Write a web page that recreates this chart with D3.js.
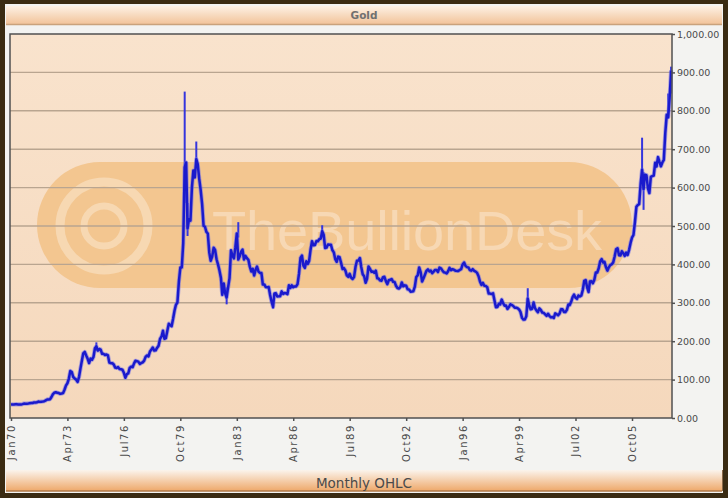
<!DOCTYPE html>
<html><head><meta charset="utf-8">
<script src="https://cdn.jsdelivr.net/npm/d3@7"></script>
<style>html,body{margin:0;padding:0;background:#fff}svg{display:block}</style>
</head><body>
<svg id="chart" width="728" height="498"></svg>
<script>
const chartTitle = "Gold";
const footerTitle = "Monthly OHLC";
const watermarkText = "TheBullionDesk";
const yTickValues = [0,100,200,300,400,500,600,700,800,900,1000];
const xTickLabels = ["Jan70","Apr73","Jul76","Oct79","Jan83","Apr86","Jul89","Oct92","Jan96","Apr99","Jul02","Oct05"];
const firstMonth = "1970-01";
// monthly closes, Jan 1970 .. Jan 2008
const goldClose = [
 35.0,35.4,35.1,35.6,35.9,35.4,35.3,35.4,36.2,37.5,37.4,37.4,
 37.9,38.7,38.9,39.0,40.5,40.1,41.0,42.7,42.0,42.5,42.9,43.5,
 45.8,48.3,48.3,49.0,54.6,62.1,65.7,67.0,65.5,64.9,62.9,63.9,
 65.1,74.2,84.4,90.5,102.0,122.5,120.0,106.8,103.0,100.1,94.0,106.7,
 129.2,150.2,168.4,172.2,163.0,154.1,143.0,154.6,151.8,158.8,181.7,186.5,
 175.8,179.6,178.2,167.0,167.0,164.0,165.2,163.0,144.1,142.8,142.9,139.3,
 131.2,130.4,132.5,127.3,126.8,125.7,117.6,105.0,114.0,116.0,130.6,133.9,
 132.3,142.2,148.9,148.0,146.7,140.8,143.3,144.8,149.4,159.3,162.8,160.4,
 173.2,178.2,183.7,175.5,176.3,183.1,188.3,206.0,212.4,227.3,206.1,207.8,
 227.2,245.7,242.1,239.2,257.6,279.1,294.7,300.8,355.1,391.7,391.9,455.1,
 653.0,665.3,494.0,517.4,513.8,600.7,644.3,626.5,674.0,661.2,623.5,594.9,
 557.6,500.5,498.7,484.6,480.4,430.6,409.3,420.3,443.4,437.8,413.4,400.1,
 384.4,364.6,320.7,350.2,323.9,314.0,339.4,364.4,436.9,422.8,415.7,444.3,
 480.5,412.5,420.5,432.8,438.4,412.6,422.3,416.2,411.9,394.2,381.5,388.4,
 370.9,386.4,394.3,381.4,377.7,377.7,347.7,347.7,341.1,340.2,341.2,320.2,
 302.7,289.1,324.0,324.9,316.6,316.8,317.3,329.8,323.2,325.6,325.1,322.6,
 345.6,338.9,345.6,340.4,342.6,342.6,348.8,376.4,417.0,423.1,397.0,391.0,
 408.2,401.0,408.8,438.6,460.3,449.6,450.4,460.7,460.3,465.6,467.4,486.3,
 477.1,442.6,443.6,451.8,451.1,451.3,437.6,431.5,413.5,406.8,420.2,418.6,
 404.0,387.8,390.2,384.2,371.2,367.6,375.2,365.4,361.9,366.9,393.9,409.3,
 410.1,416.7,393.1,374.3,369.1,352.3,362.5,394.6,388.3,380.7,381.7,378.2,
 383.7,363.8,363.3,358.4,357.4,366.7,367.7,356.4,348.7,358.7,360.0,361.7,
 354.5,353.9,344.3,338.6,337.2,340.9,353.1,342.9,345.4,344.4,335.0,334.7,
 329.0,329.4,330.1,342.2,367.2,371.9,392.0,379.8,355.3,364.2,373.8,383.3,
 386.9,381.9,384.1,377.3,381.4,385.6,385.5,380.4,391.6,389.8,384.4,379.5,
 378.6,376.5,382.1,391.0,385.2,387.6,386.2,383.7,383.1,383.1,385.5,387.4,
 400.0,405.0,396.2,392.9,392.0,385.3,383.5,387.5,383.1,381.1,377.9,369.2,
 354.9,346.6,351.8,344.5,343.8,340.8,324.1,323.9,322.8,324.9,306.0,288.7,
 289.1,297.5,295.9,308.4,299.1,292.3,292.9,284.1,288.9,296.3,294.1,291.6,
 287.1,287.2,286.0,282.6,276.4,261.3,256.2,256.7,265.1,310.7,293.2,283.1,
 284.6,300.9,286.4,280.0,275.3,285.4,281.6,274.5,273.7,270.0,266.0,271.5,
 265.5,261.9,263.0,260.5,272.4,270.2,267.5,272.4,283.4,283.1,276.2,275.9,
 281.7,295.5,294.0,302.7,314.5,321.2,313.3,310.3,319.2,316.6,319.2,333.4,
 356.9,359.0,340.6,328.2,355.7,356.4,351.0,359.8,378.9,378.9,389.9,407.6,
 413.8,404.9,406.7,393.0,383.8,392.4,398.1,400.5,405.3,420.5,439.4,442.1,
 424.0,423.4,434.2,429.2,421.9,430.7,424.5,437.9,456.0,469.9,476.7,509.8,
 549.9,555.0,557.1,610.6,646.5,596.2,633.7,632.6,598.2,585.8,627.8,629.8,
 631.2,664.8,654.9,679.4,666.9,655.5,665.3,672.4,742.7,789.6,783.3,833.2,
 905.0
];
// notable monthly high/low extremes (OHLC wicks)
const wickMonths = ["1974-12","1980-01","1980-03","1980-09","1982-06","1983-02","1985-02","1987-12","1999-10","2006-05","2006-06","2007-11","2008-01"];
const wickHighs  = [197, 850, 560, 720, 340, 510, 300, 502, 338, 730, 640, 845, 915];
const wickLows   = [175, 560, 474, 655, 296, 470, 285, 470, 285, 640, 542, 780, 845];

const svg = d3.select("#chart");
const W = 728, H = 498;
const plot = {l: 10, r: 672, t: 34, b: 418};
const parseM = d3.timeParse("%Y-%m");
const t0 = parseM(firstMonth);
const dates = goldClose.map((_, i) => d3.timeMonth.offset(t0, i));

const x = d3.scaleTime().domain([t0, new Date(2008, 0, 20)]).range([plot.l + 1, plot.r]);
const y = d3.scaleLinear().domain([0, 1000]).range([plot.b, plot.t]);

const defs = svg.append("defs");
const g1 = defs.append("linearGradient").attr("id","titleGrad").attr("x1",0).attr("y1",0).attr("x2",0).attr("y2",1);
g1.append("stop").attr("offset","0%").attr("stop-color","#fdf1e4");
g1.append("stop").attr("offset","100%").attr("stop-color","#f2c49a");
const g2 = defs.append("linearGradient").attr("id","footGrad").attr("x1",0).attr("y1",0).attr("x2",0).attr("y2",1);
g2.append("stop").attr("offset","0%").attr("stop-color","#fbf4ec");
g2.append("stop").attr("offset","100%").attr("stop-color","#eea86a");
const g3 = defs.append("linearGradient").attr("id","plotGrad").attr("x1",0).attr("y1",0).attr("x2",0).attr("y2",1);
g3.append("stop").attr("offset","0%").attr("stop-color","#f9e3cd");
g3.append("stop").attr("offset","100%").attr("stop-color","#f5d8bc");

// outer frame
svg.append("rect").attr("x",0).attr("y",0).attr("width",W).attr("height",H).attr("fill","#3a2b12");
svg.append("rect").attr("x",5).attr("y",4).attr("width",W-10).attr("height",H-9).attr("fill","#f3f3f1");

// title bar
svg.append("rect").attr("x",6).attr("y",6).attr("width",W-12).attr("height",18).attr("fill","url(#titleGrad)");
svg.append("line").attr("x1",6).attr("x2",W-6).attr("y1",24.5).attr("y2",24.5).attr("stroke","#c9a27c").attr("stroke-width",1.5);
svg.append("text").attr("x",W/2).attr("y",19).attr("text-anchor","middle")
  .attr("font-family","DejaVu Sans, Verdana, sans-serif").attr("font-size",10.5).attr("font-weight","bold")
  .attr("fill","#707070").text(chartTitle);

// footer bar
svg.append("rect").attr("x",6).attr("y",470).attr("width",W-12).attr("height",21).attr("fill","url(#footGrad)");
svg.append("line").attr("x1",6).attr("x2",W-6).attr("y1",491).attr("y2",491).attr("stroke","#b07a48").attr("stroke-width",1.5);
svg.append("line").attr("x1",722.5).attr("x2",722.5).attr("y1",470).attr("y2",491).attr("stroke","#8a6a4a").attr("stroke-width",1);
svg.append("text").attr("x",W/2).attr("y",488).attr("text-anchor","middle")
  .attr("font-family","DejaVu Sans, Verdana, sans-serif").attr("font-size",13.5)
  .attr("fill","#4a4a4a").text(footerTitle);

// plot background
svg.append("rect").attr("x",plot.l).attr("y",plot.t).attr("width",plot.r-plot.l).attr("height",plot.b-plot.t).attr("fill","url(#plotGrad)");

// watermark
const wm = svg.append("g");
wm.append("rect").attr("x",37).attr("y",162).attr("width",595).attr("height",126).attr("rx",63).attr("ry",63).attr("fill","#f3c690");
wm.append("circle").attr("cx",104).attr("cy",226).attr("r",44).attr("fill","none").attr("stroke","#f7d8b2").attr("stroke-width",9);
wm.append("circle").attr("cx",104).attr("cy",226).attr("r",20).attr("fill","none").attr("stroke","#f7d8b2").attr("stroke-width",7);
wm.append("text").attr("x",212).attr("y",250).attr("font-family","Liberation Sans, Arial, sans-serif")
  .attr("font-size",56).attr("fill","#f7d8b4").attr("textLength",390).text(watermarkText);

// gridlines
svg.append("g").selectAll("line").data(yTickValues.filter(v => v > 0 && v < 1000)).join("line")
  .attr("x1",plot.l).attr("x2",plot.r).attr("y1",d => y(d)).attr("y2",d => y(d))
  .attr("stroke","#b9a590").attr("stroke-width",1.4);

// wicks
const wickDates = wickMonths.map(parseM);
svg.append("g").selectAll("line").data(wickDates).join("line")
  .attr("x1",d => x(d)).attr("x2",d => x(d))
  .attr("y1",(d,i) => y(wickHighs[i])).attr("y2",(d,i) => y(wickLows[i]))
  .attr("stroke","#3535dd").attr("stroke-width",2);

// price line
const line = d3.line().x((d,i) => x(dates[i])).y(d => y(d)).curve(d3.curveLinear);
svg.append("path").datum(goldClose).attr("d",line).attr("fill","none")
  .attr("stroke","#6a6ae8").attr("stroke-width",4.2).attr("stroke-linejoin","round").attr("opacity",0.55);
svg.append("path").datum(goldClose).attr("d",line).attr("fill","none")
  .attr("stroke","#1a1acc").attr("stroke-width",2.5).attr("stroke-linejoin","round");

// frame
svg.append("rect").attr("x",plot.l).attr("y",plot.t).attr("width",plot.r-plot.l).attr("height",plot.b-plot.t)
  .attr("fill","none").attr("stroke","#505050").attr("stroke-width",1.5);

// right axis
const yAxis = d3.axisRight(y).tickValues(yTickValues).tickFormat(d3.format(",.2f")).tickSize(3).tickPadding(2);
const ya = svg.append("g").attr("transform",`translate(${plot.r},0)`).call(yAxis);
ya.select(".domain").remove();
ya.selectAll(".tick line").attr("stroke","#505050").attr("stroke-width",1.5);
ya.selectAll("text").attr("font-family","DejaVu Sans, Verdana, sans-serif").attr("font-size",9.5).attr("fill","#4a4a4a");

// bottom axis
const tickDates = xTickLabels.map(d3.timeParse("%b%y"));
const xAxis = d3.axisBottom(x).tickValues(tickDates).tickFormat(d3.timeFormat("%b%y")).tickSize(3).tickPadding(2);
const xa = svg.append("g").attr("transform",`translate(0,${plot.b})`).call(xAxis);
xa.select(".domain").remove();
xa.selectAll(".tick line").attr("stroke","#505050").attr("stroke-width",1.5);
xa.selectAll("text")
  .attr("font-family","DejaVu Sans, Verdana, sans-serif").attr("font-size",10).attr("fill","#4a4a4a")
  .attr("letter-spacing","1.6px")
  .attr("text-anchor","end").attr("transform","rotate(-90)")
  .attr("x",-6).attr("y",0).attr("dy","0.35em");
</script>
</body></html>
